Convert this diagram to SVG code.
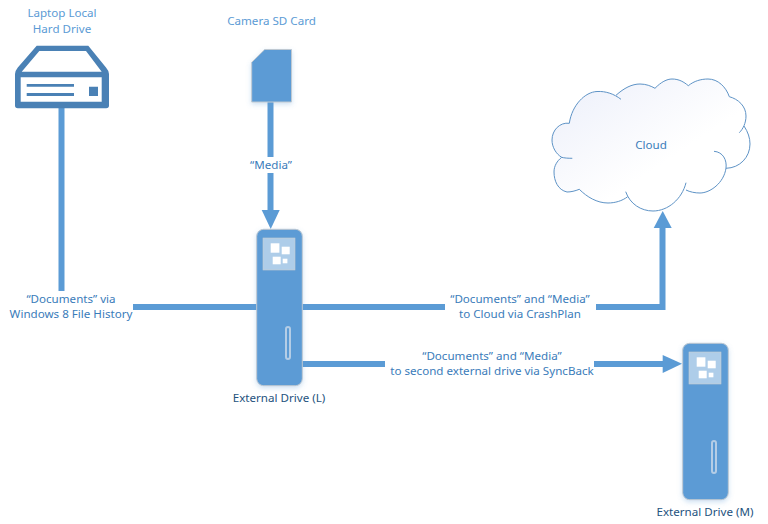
<svg xmlns="http://www.w3.org/2000/svg" width="768" height="524" viewBox="0 0 768 524">
<style>
text{font-family:"Noto Sans","Open Sans","Liberation Sans",sans-serif;font-size:11.6px;text-anchor:middle}
.t{fill:#3a7cba}.l{fill:#5b9bd5}.d{fill:#24527e}
.w{fill:#fff}
.c{stroke:#5b9bd5;stroke-width:6;fill:none}
.h{fill:#5b9bd5}
.b{fill:#5b9bd5;stroke:#bfc9d2;stroke-width:1}
.p{fill:#aecde9;stroke:#c8ccd0;stroke-width:.6}
.s{fill:#5b9bd5;stroke:#b4cde6;stroke-width:2}
</style>
<defs>
<linearGradient id="g" x1="0" y1="0" x2="1" y2="1"><stop offset="0" stop-color="#eceffa"/><stop offset=".6" stop-color="#fff"/></linearGradient>
<filter id="sh" x="-30%" y="-30%" width="160%" height="160%"><feDropShadow dx="0" dy="2" stdDeviation="2.5" flood-color="#5b9bd5" flood-opacity=".3"/></filter>
<g id="drive">
<rect class="b" x="0" y="0" width="45.6" height="156.4" rx="7"/>
<rect class="p" x="6.3" y="8.7" width="32" height="32"/>
<rect class="w" x="14" y="14" width="8.7" height="9.4"/>
<rect class="w" x="25" y="17.4" width="8" height="7.6"/>
<rect class="w" x="16" y="27.4" width="8" height="7.6"/>
<rect class="w" x="26" y="29.4" width="4.7" height="4.6"/>
<rect class="s" x="29.3" y="97.7" width="4" height="32" rx="2"/>
</g>
</defs>
<g id="connectors">
<path class="c" d="M61.5 105V291"/>
<path class="c" d="M133 307H257"/>
<path class="c" d="M302 307H445"/>
<path class="c" d="M596 307H662.5V226"/>
<path class="h" d="M662.7 211L671.7 228H653.7Z"/>
<path class="c" d="M270.5 102V157"/>
<path class="c" d="M270.5 173V214"/>
<path class="h" d="M270.7 229L261.7 210H279.7Z"/>
<path class="c" d="M302 364H385"/>
<path class="c" d="M594 364H665"/>
<path class="h" d="M682 363.7L662.7 355V373Z"/>
</g>
<g id="laptop-drive">
<path fill="#4a81b5" fill-rule="evenodd" d="M36.700 45.700H88.300L106 67.500Q109 71 109 74V105.500Q109 108.300 106.200 108.300H17.800Q15 108.300 15 105.500V74Q15 71 17.800 67.500ZM39.300 51L21.700 71.700H101.700L86 51ZM20.700 77.300V101.700H101.700V77.300Z"/>
<path fill="#4a81b5" d="M26.700 84H74V86.700H26.700ZM26.700 93H74V96H26.700ZM89 86.700H98V96H89Z"/>
<text class="l"><tspan x="62" y="17">Laptop Local</tspan><tspan x="62" y="33">Hard Drive</tspan></text>
</g>
<g id="sd-card">
<path class="b" filter="url(#sh)" d="M251.700 62.300L264.700 49.500H291.500V102H251.700Z"/>
<text class="l" x="271.500" y="25">Camera SD Card</text>
</g>
<g id="drive-l">
<use href="#drive" x="256.700" y="229.300" filter="url(#sh)"/>
<text class="d" x="279" y="402">External Drive (L)</text>
</g>
<g id="drive-m">
<use href="#drive" x="682.700" y="343.300" filter="url(#sh)"/>
<text class="d" x="705" y="516">External Drive (M)</text>
</g>
<g id="cloud">
<path fill="url(#g)" d="M569.300 123.300C572 105 585 92 597 91.500C604 91 611 92 616 95.300C624 88 632 84 640 84C646 84 651 86 655 88.300C661 82 667 79 672 79C679 79 684 82 688.300 85.700C694 81 701 79 708 79C718 79 726 87 729.300 96.700C738 99 746 106 746 116C746 120 745 123 744 126C748 132 750 138 750 144C750 157 740 168 726 168.300C724 183 710 193 700 193C695 193 690 192 686 190C680 203 668 211 653 211C641 211 632 205 627.700 196.700C622 201 615 203 608 203C597 203 587 197 579.300 189.300C575 191 571 192 567 192C558 190 554 181 554 172C554 166 557 161 561.700 157.300C556 154 552 147 552 140C552 130 560 122 569.300 123.300Z"/>
<path fill="none" stroke="#5e93c6" stroke-width="1" d="M569.300 123.300C572 105 585 92 597 91.500C606 91 614 94 621 99.300M616 95.300C624 88 632 84 640 84C646 84 651 86 655 88.300C661 82 667 79 672 79C679 79 684 82 688.300 85.700C694 81 701 79 708 79C718 79 726 87 729.300 96.700C738 99 746 106 746 116C746 123 743 129 739.300 132.700M744 126C748 132 750 138 750 144C750 157 740 168 726 168.300M714 151.300C723 152 727 160 726 168C724 183 710 193 700 193C695 193 690 192 686 190M686 182.700C682 199 668 211 653 211C641 211 630 204 625.700 191.700M627.700 196.700C622 201 615 203 608 203C597 203 587 197 579.300 189.300C575 191 571 192 567 192C558 190 554 181 554 172C554 166 557 161 561.700 157.300C564 158 568 158.300 572.300 158.300M561.700 157.300C556 154 552 147 552 140C552 130 560 122 569.300 123.300"/>
<text class="t" x="651" y="149">Cloud</text>
</g>
<g id="labels">
<text class="t" x="71" y="303">“Documents” via</text>
<text class="t" x="71" y="318">Windows 8 File History</text>
<text class="t" x="271" y="169">“Media”</text>
<text class="t" x="520" y="303">“Documents” and “Media”</text>
<text class="t" x="520" y="318">to Cloud via CrashPlan</text>
<text class="t" x="492" y="360">“Documents” and “Media”</text>
<text class="t" x="492" y="375">to second external drive via SyncBack</text>
</g>
</svg>
